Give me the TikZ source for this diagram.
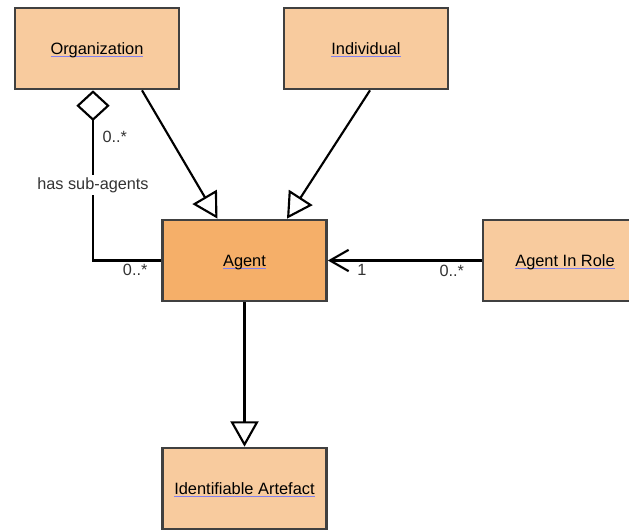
\documentclass[tikz,border=0pt]{standalone}
\usepackage{fontspec}
\setmainfont{Liberation Sans}
\usepackage{tikz}
\usetikzlibrary{arrows.meta,calc,positioning}
\definecolor{classfill}{HTML}{F8CB9E}
\definecolor{agentfill}{HTML}{F5AF69}
\definecolor{boxline}{HTML}{404040}
\definecolor{linkline}{HTML}{8080F0}
\definecolor{labeltext}{HTML}{333333}
\newcommand{\linked}[1]{\setbox0\hbox{#1}\rlap{\raisebox{0pt}[0pt][0pt]{\color{linkline}\rule[-2.2pt]{\wd0}{1pt}}}\box0}
\tikzset
{
    classbox/.style = {draw=boxline, line width=2pt, fill=classfill, minimum width=123pt, minimum height=60.75pt, text height=9pt, text depth=0pt, font=\fontsize{12.3}{15}\selectfont},
    rolelabel/.style = {text=labeltext, inner sep=1pt, font=\fontsize{12.2}{15}\selectfont},
    gen/.style = {line width=1.6pt, -{Triangle[open, length=19pt, width=21pt, fill=white]}},
    assoc/.style = {line width=1.6pt, -{Straight Barb[length=14pt, width=16pt]}},
    aggr/.style = {line width=1.6pt, {Diamond[open, length=23pt, width=25pt, fill=white]}-}
}
\begin{document}
\begin{tikzpicture}[x=0.75pt, y=-0.75pt]
    \useasboundingbox (0,0) rectangle (629,529);
    % classes
    \node [classbox] (org) at (97,48.5) {\linked{Organization}};
    \node [classbox] (ind) at (366,48.5) {\linked{Individual}};
    \node [classbox, fill=agentfill] (agent) at (244.5,260.5) {\linked{Agent}};
    \node [classbox] (role) at (565,260.5) {\linked{Agent In Role}};
    \node [classbox] (artefact) at (244.5,488.5) {\linked{Identifiable Artefact}};

    % generalizations
    \draw [gen] ($(org.south)+(45,0)$) -- ($(agent.north)+(-27,0)$);
    \draw [gen] ($(ind.south)+(4,0)$) -- ($(agent.north)+(42.5,0)$);
    \draw [gen] (agent.south) -- (artefact.north);

    % associations
    \draw [assoc] (role.west) -- (agent.east);
    \node [rolelabel, below right=2pt and 21pt of agent.east] (one) {1};
    \node [rolelabel, below left=2pt and 12pt of role.west] (many) {0..*};

    \draw [aggr] ($(org.south)+(-4,0)$) coordinate (orgagg) |- (agent.west);
    \node [rolelabel, anchor=west] (subhigh) at (101,137) {0..*};
    \node [rolelabel, fill=white, inner sep=2pt] (subname) at (orgagg |- 0,185) {has sub-agents};
    \node [rolelabel, anchor=north east] (sublow) at (149,263) {0..*};
\end{tikzpicture}
\end{document}
